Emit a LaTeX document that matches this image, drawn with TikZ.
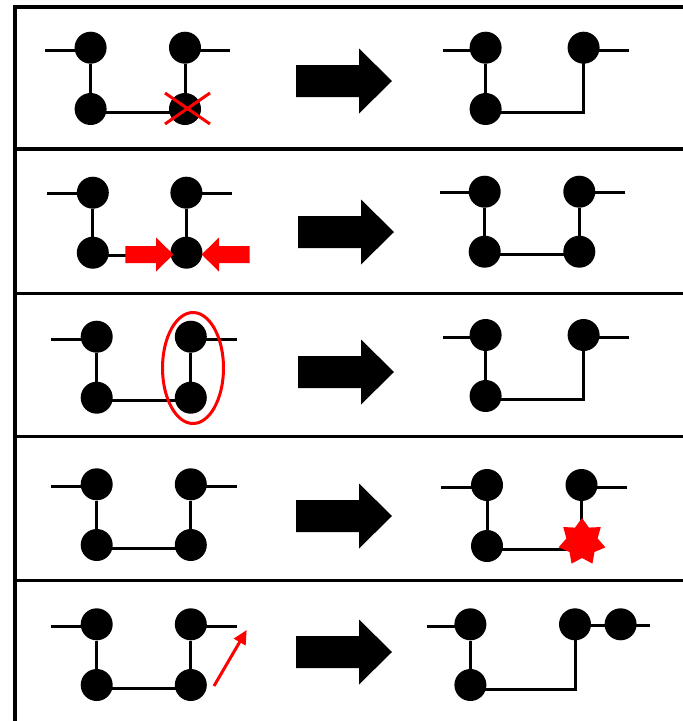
\documentclass[tikz,border=0pt]{standalone}
\usetikzlibrary{shapes.geometric,arrows.meta}
\begin{document}
\begin{tikzpicture}[x=1pt,y=-1pt,
  bead/.style={circle, fill=black, inner sep=0pt, minimum size=32pt},
  bond/.style={line width=3pt, black},
  framerule/.style={line width=3.5pt, black},
  redline/.style={line width=3pt, red},
  burst/.style={star, star points=7, star point ratio=1.5, minimum size=48pt,
                inner sep=0pt, fill=red},
  bigarrow/.pic={\fill[black] (0,-16) -- (63,-16) -- (63,-32.5) -- (96,0)
                 -- (63,32.5) -- (63,16) -- (0,16) -- cycle;},
  redpush/.pic={\fill[red] (0,-8.5) -- (30.6,-8.5) -- (30.6,-17) -- (48,0)
                -- (30.6,17) -- (30.6,8.5) -- (0,8.5) -- cycle;}
]
\useasboundingbox (0,0) rectangle (683,721);

% outer frame and row separators
\draw[framerule] (15,721) -- (15,7) -- (683,7);
\foreach \y in {149,293.5,436.7,580.7}
  \draw[framerule] (15,\y) -- (683,\y);

% ---------- row 1: removal ----------
\node[bead] (a1) at (90.6,47.7) {};
\node[bead] (b1) at (185,47.7) {};
\node[bead] (c1) at (90.6,109) {};
\node[bead] (d1) at (185,109) {};
\coordinate (a1s) at (45,50);
\coordinate (b1s) at (230,50);
\draw[bond] (a1s) -- (a1s -| a1.center);
\draw[bond] (b1s) -- (b1s -| b1.center);
\draw[bond] (a1) -- (c1);
\draw[bond] (b1) -- (d1);
\draw[bond] ([yshift=-3pt]c1.center) -- ([yshift=-3pt]d1.center);
\draw[redline] ([shift={(-20,-16)}]d1.center) -- ([shift={(25,15)}]d1.center)
               ([shift={(-20,15)}]d1.center) -- ([shift={(25,-16)}]d1.center);

\pic at (296,81) {bigarrow};

\node[bead] (e1) at (485.6,47.7) {};
\node[bead] (f1) at (583.6,47.7) {};
\node[bead] (g1) at (485.6,109) {};
\coordinate (e1s) at (443,50);
\coordinate (f1s) at (629,50);
\draw[bond] (e1s) -- (e1s -| e1.center);
\draw[bond] (f1s) -- (f1s -| f1.center);
\draw[bond] (e1) -- (g1);
\draw[bond] ([yshift=-3pt]g1.center) -| (f1.center);

% ---------- row 2: fusion ----------
\node[bead] (a2) at (92.8,192.7) {};
\node[bead] (b2) at (186.4,192.7) {};
\node[bead] (c2) at (92.8,252.7) {};
\node[bead] (d2) at (186.4,252.7) {};
\coordinate (a2s) at (47,193.3);
\coordinate (b2s) at (232,193.3);
\draw[bond] (a2s) -- (a2s -| a2.center);
\draw[bond] (b2s) -- (b2s -| b2.center);
\draw[bond] (a2) -- (c2);
\draw[bond] (b2) -- (d2);
\draw[bond] ([yshift=-2.3pt]c2.center) -- ([yshift=-2.3pt]d2.center);
\pic at (125.4,254.5) {redpush};
\pic[xscale=-1] at (249.6,254.5) {redpush};

\pic at (298,232) {bigarrow};

\node[bead] (e2) at (484.7,191.7) {};
\node[bead] (f2) at (579.3,191.7) {};
\node[bead] (g2) at (484.7,251.7) {};
\node[bead] (h2) at (579.3,251.7) {};
\coordinate (e2s) at (440,192.5);
\coordinate (f2s) at (625,192.5);
\draw[bond] (e2s) -- (e2s -| e2.center);
\draw[bond] (f2s) -- (f2s -| f2.center);
\draw[bond] (e2) -- (g2);
\draw[bond] (f2) -- (h2);
\draw[bond] ([yshift=-3pt]g2.center) -- ([yshift=-3pt]h2.center);

% ---------- row 3: merging a pair ----------
\node[bead] (a3) at (96.7,336.7) {};
\node[bead] (b3) at (190.8,336.7) {};
\node[bead] (c3) at (96.7,397.7) {};
\node[bead] (d3) at (190.8,397.7) {};
\coordinate (a3s) at (51.4,339);
\coordinate (b3s) at (236.5,339.5);
\draw[bond] (a3s) -- (a3s -| a3.center);
\draw[bond] (b3s) -- (b3s -| b3.center);
\draw[bond] (a3) -- (c3);
\draw[bond] (b3) -- (d3);
\draw[bond] ([yshift=-2.5pt]c3.center) -- ([yshift=-2.5pt]d3.center);
\draw[redline] (193,368) ellipse [x radius=30.5, y radius=55.5];

\pic at (298,372) {bigarrow};

\node[bead] (e3) at (485.6,335) {};
\node[bead] (f3) at (583.6,335) {};
\node[bead] (g3) at (485.6,396) {};
\coordinate (e3s) at (443,337);
\coordinate (f3s) at (629,337);
\draw[bond] (e3s) -- (e3s -| e3.center);
\draw[bond] (f3s) -- (f3s -| f3.center);
\draw[bond] (e3) -- (g3);
\draw[bond] ([yshift=-3.3pt]g3.center) -| (f3.center);

% ---------- row 4: modification ----------
\node[bead] (a4) at (96.7,484.3) {};
\node[bead] (b4) at (190.8,484.3) {};
\node[bead] (c4) at (96.7,545) {};
\node[bead] (d4) at (190.8,545) {};
\coordinate (a4s) at (51.4,486.7);
\coordinate (b4s) at (236.5,486.7);
\draw[bond] (a4s) -- (a4s -| a4.center);
\draw[bond] (b4s) -- (b4s -| b4.center);
\draw[bond] (a4) -- (c4);
\draw[bond] (b4) -- (d4);
\draw[bond] ([yshift=-3pt]c4.center) -- ([yshift=-3pt]d4.center);

\pic at (296,516) {bigarrow};

\node[bead] (e4) at (487,485) {};
\node[bead] (f4) at (581.5,485) {};
\node[bead] (g4) at (487,546) {};
\coordinate (e4s) at (441,487.5);
\coordinate (f4s) at (627,487.5);
\draw[bond] (e4s) -- (e4s -| e4.center);
\draw[bond] (f4s) -- (f4s -| f4.center);
\draw[bond] (e4) -- (g4);
\draw[bond] ([yshift=-3pt]g4.center) -| (f4.center);
\node[burst] (h4) at (582,542) {};

% ---------- row 5: insertion ----------
\node[bead] (a5) at (96.7,624.3) {};
\node[bead] (b5) at (190.8,624.3) {};
\node[bead] (c5) at (96.7,685) {};
\node[bead] (d5) at (190.8,685) {};
\coordinate (a5s) at (51.4,626.7);
\coordinate (b5s) at (236.5,626.7);
\draw[bond] (a5s) -- (a5s -| a5.center);
\draw[bond] (b5s) -- (b5s -| b5.center);
\draw[bond] (a5) -- (c5);
\draw[bond] (b5) -- (d5);
\draw[bond] ([yshift=-3pt]c5.center) -- ([yshift=-3pt]d5.center);
\coordinate (r5a) at (214,686);
\coordinate (r5b) at (246.7,630);
\draw[red, line width=3pt, -{Triangle[length=14pt,width=13pt]}] (r5a) -- (r5b);

\pic at (296,652) {bigarrow};

\node[bead] (e5) at (470.4,624.3) {};
\node[bead] (f5) at (575,624.3) {};
\node[bead] (g5) at (620.6,624.3) {};
\node[bead] (h5) at (470.4,685) {};
\coordinate (e5s) at (427,626.5);
\coordinate (g5s) at (650,625.5);
\draw[bond] (e5s) -- (e5s -| e5.center);
\draw[bond] ([yshift=-1pt]f5.center) -- ([yshift=-1pt]g5.center);
\draw[bond] (g5s) -- (g5s -| g5.center);
\draw[bond] (e5) -- (h5);
\draw[bond] ([yshift=-4pt]h5.center) -| (f5.center);
\end{tikzpicture}
\end{document}
